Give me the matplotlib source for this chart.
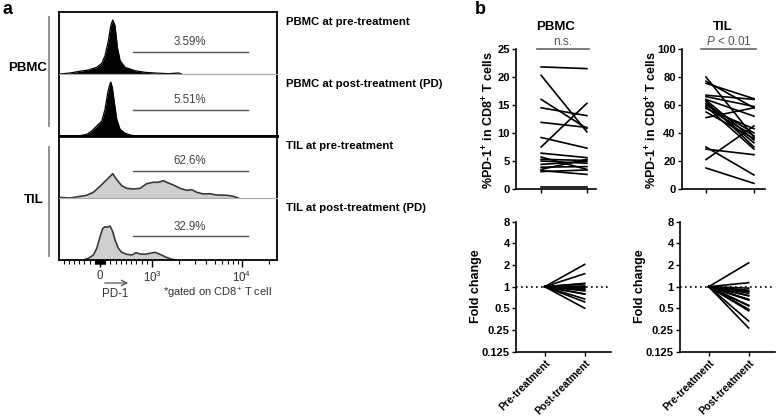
import matplotlib
matplotlib.use('Agg')
import numpy as np
import matplotlib.pyplot as plt
from matplotlib.ticker import FixedLocator, NullLocator

plt.rcParams['font.family'] = ['Liberation Sans', 'DejaVu Sans']
plt.rcParams['mathtext.fontset'] = 'custom'
plt.rcParams['mathtext.rm'] = 'Liberation Sans'
plt.rcParams['mathtext.it'] = 'Liberation Sans:italic'
plt.rcParams['mathtext.bf'] = 'Liberation Sans:bold'

W, H = 778, 419

# --- panel a: PD-1 histograms (fluorescence, normalized count) ---
pbmc_pre_x = [-769, -577, -385, -225, -63, 33, 96, 160, 206, 244, 288, 333, 385, 481, 673, 865, 1080, 1517, 1958, 2133]
pbmc_pre_y = [0, 1.6, 4.4, 6.5, 10.8, 17.3, 29.5, 53.7, 77.9, 87.1, 77.9, 43.1, 21.5, 10.8, 5.3, 2.7, 1.6, 0.5, 1.6, 0]

pbmc_post_x = [-417, -256, -160, -63, 33, 96, 148, 179, 206, 237, 275, 321, 385, 481, 610, 802]
pbmc_post_y = [0, 2.7, 8.1, 16.1, 24.2, 43, 69.8, 80.6, 87, 77.9, 53.7, 26.9, 10.7, 4.3, 1, 0]

til_pre_x = [-769, -577, -385, -256, -129, 0, 129, 244, 321, 417, 513, 640, 769, 898, 1034, 1175, 1335,
             1517, 1725, 2047, 2430, 2762, 3139, 3718, 4409, 5231, 6761, 8006, 9104]
til_pre_y = [0.8, 0, 2.7, 4.4, 9.2, 18.9, 29.5, 39.2, 29.5, 19.8, 15.6, 14.5, 15.6, 23.1, 25.3, 25.3, 27.9,
             24.2, 21, 15.6, 12.4, 13.4, 9.2, 6.5, 6.9, 4.8, 4.4, 2.7, 0]

til_post_x = [-321, -225, -129, -63, 0, 52, 96, 140, 192, 244, 288, 352, 417, 513, 610, 692, 769, 865,
              962, 1080, 1227, 1394, 1585, 1801]
til_post_y = [0, 2.7, 8.1, 18.9, 37.6, 51.1, 53.7, 52.7, 54.8, 45.6, 32.3, 18.9, 12.4, 9.2, 8.1, 11.8, 9.7, 9.2,
              10.8, 12.4, 9.2, 5.3, 2.1, 0]

hist_names = ['PBMC at pre-treatment', 'PBMC at post-treatment (PD)',
              'TIL at pre-treatment', 'TIL at post-treatment (PD)']
gate_labels = ['3.59%', '5.51%', '62.6%', '32.9%']
gate_heights = [35, 42, 43, 38]
gate_lo, gate_hi = 635, 11700

# --- panel b: % PD-1+ of CD8+ T cells, paired pre/post ---
pbmc_pre = [21.8, 20.3, 16.0, 14.5, 11.9, 9.2, 7.5, 6.4, 5.7, 5.3, 5.0, 4.4, 3.9, 3.5, 3.3, 3.1, 0.4]
pbmc_post = [21.5, 10.2, 10.8, 13.1, 11.0, 7.3, 15.3, 5.6, 3.5, 5.1, 4.6, 4.9, 4.0, 5.3, 2.6, 3.4, 0.4]
til_pre = [80.0, 77.0, 75.5, 67.0, 66.0, 64.0, 63.5, 62.5, 61.0, 60.0, 59.0, 58.0, 57.5, 55.0, 51.0,
           30.0, 28.5, 21.0, 15.0]
til_post = [37.0, 58.0, 64.5, 64.0, 59.0, 52.0, 35.0, 30.0, 33.0, 40.0, 28.5, 38.0, 43.0, 36.0, 58.0,
            10.0, 24.5, 45.0, 4.0]
groups = ['Pre-treatment', 'Post-treatment']
fold_ticks = [0.125, 0.25, 0.5, 1, 2, 4, 8]
fold_labels = ['0.125', '0.25', '0.5', '1', '2', '4', '8']


def rect(l, t, r, b):
    return [l / W, 1 - b / H, (r - l) / W, (b - t) / H]


fig = plt.figure(figsize=(W / 100, H / 100), dpi=100)

ov = fig.add_axes([0, 0, 1, 1], zorder=-1)
ov.set_xlim(0, W)
ov.set_ylim(H, 0)
ov.axis('off')

# histograms
hists = [(pbmc_pre_x, pbmc_pre_y), (pbmc_post_x, pbmc_post_y),
         (til_pre_x, til_pre_y), (til_post_x, til_post_y)]
for i, (hx, hy) in enumerate(hists):
    top = 12 + 62 * i
    ax = fig.add_axes(rect(59, top, 277, top + 62))
    ax.set_xscale('symlog', linthresh=1000, linscale=0.52)
    ax.set_xlim(-790, 24500)
    ax.set_ylim(0, 100)
    if i < 2:
        ax.fill_between(hx, hy, color='black', lw=0)
        ax.plot(hx, hy, color='black', lw=0.9)
    else:
        ax.fill_between(hx, hy, color='#cfcfcf', lw=0)
        ax.plot(hx, hy, color='#3a3a3a', lw=1.2)
    ax.plot([gate_lo, gate_hi], [gate_heights[i]] * 2, color='#555555', lw=1.0)
    ax.text(2600, gate_heights[i] + 16, gate_labels[i], ha='center', va='center',
            fontsize=8.3, color='#444444')
    ax.set_yticks([])
    for s in ax.spines.values():
        s.set_linewidth(1.3)
        s.set_color('black')
    if i in (0, 2):
        ax.spines['bottom'].set_color('#aaaaaa')
        ax.spines['bottom'].set_linewidth(0.8)
    if i in (1, 3):
        ax.spines['top'].set_color('#aaaaaa')
        ax.spines['top'].set_linewidth(0.8)
    if i == 1:
        ax.spines['bottom'].set_linewidth(2)
    if i == 2:
        ax.spines['top'].set_linewidth(2)
    if i < 3:
        ax.set_xticks([])
        ax.xaxis.set_minor_locator(NullLocator())
    else:
        ax.set_xticks([0, 1000, 10000], ['0', '$10^3$', '$10^4$'])
        minors = list(range(-700, 0, 100)) + list(range(-90, 100, 10)) + list(range(100, 1000, 100)) \
            + list(range(2000, 10000, 1000)) + [20000]
        ax.xaxis.set_minor_locator(FixedLocator(minors))
        ax.tick_params(axis='x', which='major', length=5, width=1, labelsize=8.3,
                       labelcolor='#333333', pad=2)
        ax.tick_params(axis='x', which='minor', length=3, width=0.8)
    ov.text(286, top + 10, hist_names[i], ha='left', va='center', fontsize=8.2, fontweight='bold')

ov.text(8, 10, 'a', ha='center', va='center', fontsize=13, fontweight='bold')
ov.text(480, 10, 'b', ha='center', va='center', fontsize=13, fontweight='bold')
ov.text(28, 68, 'PBMC', ha='center', va='center', fontsize=9.5, fontweight='bold')
ov.text(34, 200, 'TIL', ha='center', va='center', fontsize=9.5, fontweight='bold')
ov.plot([49.5, 49.5], [17, 126], color='#888888', lw=1.3)
ov.plot([49.5, 49.5], [147, 256], color='#888888', lw=1.3)
ov.annotate('', xy=(131, 283), xytext=(102, 283),
            arrowprops=dict(arrowstyle='->', color='#555555', lw=0.9))
ov.text(115, 294, 'PD-1', ha='center', va='center', fontsize=8.3, color='#333333')
ov.text(163, 293, '*gated on CD8$^{+}$ T cell', ha='left', va='center', fontsize=8, color='#333333')

# panel b top: paired lines
ylab = r'%PD-1$^{\mathbf{+}}$ in CD8$^{\mathbf{+}}$ T cells'
tops = [(pbmc_pre, pbmc_post, rect(516, 49, 596, 189), (-0.55, 1.2), 25, 'n.s.', 556),
        (til_pre, til_post, rect(682, 49, 765, 189), (-0.5, 1.23), 100, '$P$ < 0.01', 723)]
for pre, post, r, xl, ymax, sig, cx in tops:
    ax = fig.add_axes(r)
    for a, b in zip(pre, post):
        ax.plot([0, 1], [a, b], color='black', lw=1.2)
    ax.set_xlim(*xl)
    ax.set_ylim(0, ymax)
    yt = np.linspace(0, ymax, 6)
    ax.set_yticks(yt, [f'{v:g}' for v in yt], fontweight='bold', fontsize=8)
    ax.set_xticks([0, 1], ['', ''])
    ax.tick_params(length=3, width=1, pad=1.5)
    ax.spines[['top', 'right']].set_visible(False)
    ax.spines[['left', 'bottom']].set_linewidth(1.2)
    ax.plot([-0.1, 1.05], [ymax, ymax], color='#666666', lw=1.2, clip_on=False)
    ax.annotate(sig, (0.475, ymax), xytext=(0, 1), textcoords='offset points',
                ha='center', va='bottom', fontsize=8.5, color='#555555', annotation_clip=False)
    ov.text(cx, 27, 'PBMC' if ymax == 25 else 'TIL', ha='center', va='center',
            fontsize=9.5, fontweight='bold')

ov.text(489, 120, ylab, rotation=90, ha='center', va='center', fontsize=9, fontweight='bold')
ov.text(652, 120, ylab, rotation=90, ha='center', va='center', fontsize=9, fontweight='bold')

# panel b bottom: fold change
bots = [(pbmc_pre, pbmc_post, rect(516, 221.7, 611, 351.7), 476.5),
        (til_pre, til_post, rect(680, 221.7, 775, 351.7), 640)]
for pre, post, r, lx in bots:
    ax = fig.add_axes(r)
    ax.set_yscale('log', base=2)
    ax.axhline(1, color='black', lw=1.2, ls=(0, (1, 2)))
    for a, b in zip(pre, post):
        ax.plot([0, 1], [1, b / a], color='black', lw=1.2)
    ax.set_xlim(-0.72, 1.66)
    ax.set_ylim(0.125, 8)
    ax.set_yticks(fold_ticks, fold_labels, fontweight='bold', fontsize=8)
    ax.yaxis.set_minor_locator(NullLocator())
    ax.set_xticks([0, 1])
    ax.set_xticklabels(groups, rotation=45, ha='right', rotation_mode='anchor',
                       fontweight='bold', fontsize=7.4)
    ax.tick_params(length=3, width=1, pad=1.5)
    ax.spines[['top', 'right']].set_visible(False)
    ax.spines[['left', 'bottom']].set_linewidth(1.2)
    ov.text(lx, 286, 'Fold change', rotation=90, ha='center', va='center', fontsize=9, fontweight='bold')

fig.savefig('out.png', dpi=100)
